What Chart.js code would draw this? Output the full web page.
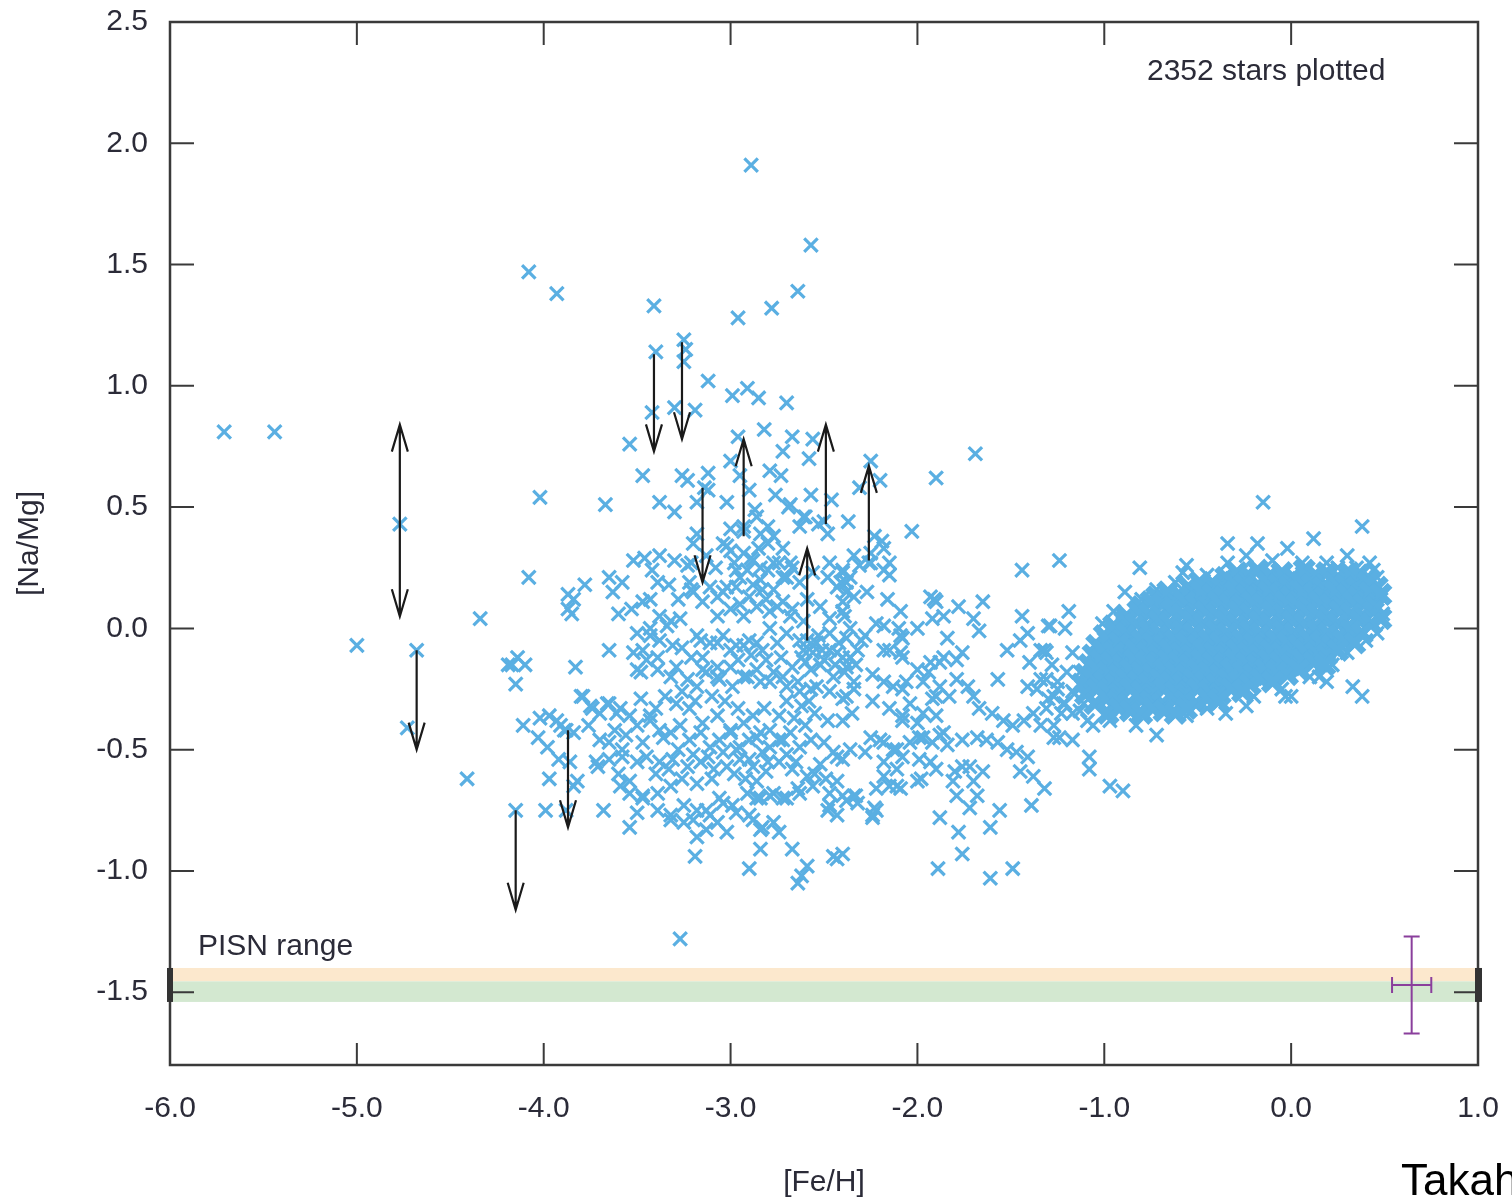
<!DOCTYPE html>
<html>
<head>
<meta charset="utf-8">
<title>[Na/Mg] vs [Fe/H]</title>
<script src="https://cdn.jsdelivr.net/npm/chart.js@4.4.0/dist/chart.umd.min.js"></script>
<style>
  body { margin: 0; background: #fff; }
  canvas { display: block; }
</style>
</head>
<body>
<canvas id="myChart" width="1512" height="1203"></canvas>
<script>
// tick labels
const feHTicks = [-6, -5, -4, -3, -2, -1, 0, 1];
const naMgTicks = [-1.5, -1.0, -0.5, 0.0, 0.5, 1.0, 1.5, 2.0, 2.5];

// stars, [Fe/H] , [Na/Mg]
const haloStars = [
  [-5.71,0.81],[-5.44,0.81],[-5.00,-0.07],[-4.77,0.43],[-4.68,-0.09],[-4.73,-0.41],[-4.41,-0.62],[-4.34,0.04],
  [-4.08,0.21],[-4.02,0.54],[-4.08,1.47],[-3.93,1.38],[-4.15,-0.75],[-4.19,-0.15],[-4.14,-0.12],[-4.10,-0.15],
  [-4.17,-0.15],[-4.15,-0.23],[-4.11,-0.40],[-4.02,-0.37],[-3.93,-0.38],[-4.03,-0.45],[-3.98,-0.49],[-3.92,-0.54],
  [-3.88,-0.42],[-3.97,-0.62],[-3.99,-0.75],[-3.88,-0.75],[-3.87,0.08],[-3.87,0.14],[-3.27,-1.28],
  [-2.89,1.91],[-2.57,1.58],[-2.64,1.39],[-2.78,1.32],[-2.96,1.28],[-3.41,1.33],[-3.40,1.14],[-3.25,1.19],
  [-3.24,1.15],[-3.25,1.10],[-3.12,1.02],[-2.99,0.96],[-2.91,0.99],[-2.85,0.95],[-2.70,0.93],[-3.42,0.89],
  [-3.30,0.91],[-3.19,0.90],[-3.54,0.76],[-3.47,0.63],[-3.67,0.51],[-3.38,0.52],[-3.30,0.48],[-3.26,0.63],
  [-3.23,0.61],[-3.12,0.64],[-3.12,0.57],[-3.18,0.52],[-3.02,0.52],[-3.00,0.69],[-2.96,0.79],[-2.82,0.82],
  [-2.95,0.63],[-2.90,0.57],[-2.87,0.49],[-2.79,0.65],[-2.73,0.63],[-2.72,0.73],[-2.67,0.79],[-2.56,0.78],
  [-2.58,0.70],[-2.76,0.55],[-2.69,0.50],[-2.57,0.55],[-2.46,0.53],[-2.37,0.44],[-2.61,0.46],[-2.25,0.69],
  [-2.31,0.58],[-3.14,0.58]
];

const metalPoorStars = [
  [-2.68,0.51],[-2.60,0.46],[-2.63,0.42],[-2.53,0.43],[-2.48,0.39],[-2.50,0.44],[-3.18,0.39],[-3.20,0.35],
  [-3.21,0.27],[-3.04,0.35],[-3.00,0.32],[-2.93,0.40],[-2.84,0.39],[-2.80,0.35],[-2.89,0.29],[-2.84,0.25],
  [-2.77,0.27],[-3.46,0.29],[-3.38,0.30],[-3.30,0.28],[-3.23,0.26],[-3.42,0.24],[-3.39,0.19],[-3.43,0.12],
  [-3.65,0.21],[-3.58,0.19],[-3.63,0.15],[-3.78,0.18],[-3.84,0.12],[-3.85,0.06],[-3.60,0.06],[-3.53,0.08],
  [-3.47,0.11],[-3.21,0.16],[-3.15,0.11],[-3.07,0.13],[-3.02,0.17],[-2.95,0.21],[-2.91,0.24],[-2.84,0.20],
  [-2.77,0.16],[-2.70,0.21],[-2.67,0.25],[-2.56,0.23],[-2.48,0.21],[-2.43,0.17],[-2.38,0.19],[-2.34,0.13],
  [-3.50,-0.02],[-3.43,0.00],[-3.34,0.01],[-3.27,0.04],[-3.38,-0.05],[-3.31,-0.07],[-3.47,-0.09],[-3.16,-0.05],
  [-3.07,-0.06],[-3.00,-0.09],[-2.93,-0.07],[-2.86,-0.06],[-3.15,-0.12],[-3.07,-0.16],[-2.79,0.00],[-2.70,-0.02],
  [-2.63,-0.05],[-2.56,-0.07],[-2.51,-0.09],[-2.43,-0.10],[-2.36,-0.12],[-2.32,-0.09],[-2.75,0.09],[-2.67,0.08],
  [-2.59,0.12],[-2.52,0.09],[-2.47,0.04],[-2.40,0.07],[-2.36,0.00],[-3.52,-0.10],[-3.45,-0.13],[-3.48,-0.18],
  [-3.39,-0.17],[-3.32,-0.20],[-3.29,-0.16],[-3.65,-0.09],[-3.83,-0.16],[-3.23,-0.21],[-3.18,-0.24],[-3.13,-0.18],
  [-3.06,-0.21],[-2.99,-0.24],[-2.91,-0.20],[-2.84,-0.22],[-2.77,-0.18],[-2.70,-0.24],[-2.63,-0.26],[-2.54,-0.24],
  [-2.47,-0.26],[-2.40,-0.29],[-2.34,-0.25],[-3.80,-0.28],[-3.75,-0.32],[-3.70,-0.35],[-3.65,-0.31],[-3.59,-0.33],
  [-3.54,-0.36],[-3.48,-0.29],[-3.89,-0.42],[-3.84,-0.43],[-3.43,-0.38],[-3.38,-0.42],[-3.32,-0.43],[-3.27,-0.40],
  [-3.22,-0.46],[-3.16,-0.43],[-3.11,-0.49],[-3.06,-0.46],[-3.00,-0.43],[-2.95,-0.49],[-2.90,-0.46],[-2.84,-0.43],
  [-2.79,-0.49],[-2.74,-0.46],[-2.68,-0.43],[-2.63,-0.49],[-2.57,-0.46],[-2.45,-0.51],[-2.40,-0.54],[-3.45,-0.53],
  [-3.38,-0.55],[-3.31,-0.54],[-3.23,-0.57],[-3.16,-0.55],[-3.09,-0.58],[-3.02,-0.57],[-2.95,-0.54],[-2.88,-0.57],
  [-2.81,-0.59],[-2.74,-0.55],[-2.67,-0.58],[-2.59,-0.61],[-3.71,-0.57],[-3.65,-0.54],[-3.58,-0.53],[-3.50,-0.55],
  [-3.86,-0.55],[-3.84,-0.65],[-3.68,-0.75],[-3.59,-0.65],[-3.54,-0.68],[-3.50,-0.76],[-3.54,-0.82],[-3.47,-0.70],
  [-3.39,-0.68],[-3.32,-0.65],[-3.32,-0.79],[-3.25,-0.73],[-3.20,-0.79],[-3.13,-0.75],[-3.06,-0.70],[-2.99,-0.73],
  [-2.91,-0.68],[-2.84,-0.70],[-2.77,-0.68],[-2.70,-0.70],[-2.63,-0.68],[-2.56,-0.65],[-3.18,-0.86],[-3.13,-0.83],
  [-3.07,-0.80],[-3.02,-0.84],[-2.88,-0.79],[-2.84,-0.83],[-2.77,-0.80],[-2.74,-0.84],[-3.19,-0.94],[-2.90,-0.99],
  [-2.84,-0.91],[-2.67,-0.91],[-2.59,-0.98],[-2.64,-1.05],[-2.43,-0.95],[-2.45,-0.94],[-2.47,-0.68],[-2.43,-0.77],
  [-2.34,-0.69],[-2.62,-1.02],[-3.00,0.41],[-2.93,0.42],[-2.86,0.46],[-2.80,0.42],[-2.77,0.38],[-2.72,0.33],
  [-2.68,0.27],[-2.63,0.19],[-2.72,0.21],[-2.47,0.27],[-2.40,0.24],[-2.31,0.26],[-2.25,0.31],[-2.18,0.33],
  [-2.15,0.27],[-3.20,0.15],[-3.11,0.17],[-3.04,0.15],[-2.97,0.17],[-2.90,0.13],[-2.83,0.16],[-3.07,0.05],
  [-3.00,0.08],[-2.93,0.05],[-2.86,0.09],[-2.79,0.07],[-2.72,0.11],[-2.68,0.05],[-2.61,0.03],[-3.38,0.05],
  [-3.32,0.03],[-3.43,-0.03],[-3.18,-0.03],[-3.11,-0.06],[-3.04,-0.03],[-2.97,-0.07],[-2.90,-0.05],[-2.83,-0.09],
  [-2.75,-0.06],[-2.61,-0.09],[-2.54,-0.06],[-2.47,-0.09],[-2.40,-0.12],[-3.15,-0.17],[-3.07,-0.20],[-3.00,-0.16],
  [-2.93,-0.20],[-2.86,-0.17],[-2.79,-0.22],[-2.72,-0.20],[-2.64,-0.22],[-2.57,-0.25],[-3.39,-0.12],[-3.50,-0.17],
  [-3.29,-0.31],[-3.22,-0.33],[-3.15,-0.39],[-3.07,-0.36],[-3.00,-0.42],[-2.93,-0.39],[-2.86,-0.45],[-2.79,-0.42],
  [-2.72,-0.46],[-3.43,-0.36],[-3.50,-0.40],[-3.36,-0.45],[-3.47,-0.47],[-2.50,-0.47],[-2.43,-0.53],[-2.36,-0.50],
  [-2.97,-0.50],[-2.90,-0.54],[-2.83,-0.51],[-2.43,-0.63],[-2.40,-0.69],[-2.32,-0.72],[-2.48,-0.75],[-2.47,-0.73],
  [-2.64,-0.66],[-2.72,-0.70],[-2.79,-0.69],[-2.86,-0.70],[-2.90,-0.77],[-2.83,-0.82],[-2.97,-0.76],[-3.04,-0.72],
  [-3.11,-0.77],[-3.18,-0.75],[-3.25,-0.80],[-3.32,-0.77],[-3.39,-0.75],[-3.97,-0.36],[-3.91,-0.40],[-3.79,-0.28],
  [-3.74,-0.33],[-3.66,-0.31],[-3.61,-0.35],[-3.65,-0.47],[-3.58,-0.50],[-3.72,-0.55],[-3.82,-0.63],[-3.54,-0.63],
  [-3.47,-0.69],[-3.52,0.28],[-3.22,0.19],[-2.97,0.24],[-3.02,0.34],[-2.88,0.28],[-2.80,0.24],[-2.74,0.27],
  [-2.41,0.19],[-2.36,0.21],[-2.25,0.27],[-2.59,-0.05],[-2.55,-0.35],[-2.62,-0.32],[-2.48,-0.38],[-2.52,-0.15],
  [-2.45,-0.20],[-2.56,-0.10],[-2.50,-0.13],[-2.44,-0.15],[-2.38,-0.16],[-2.60,-0.14],
  [-3.28,-0.50],[-3.20,-0.52],[-3.12,-0.53],[-3.04,-0.51],[-2.98,-0.60],[-2.92,-0.62],[-2.86,-0.63],[-3.10,-0.62],
  [-3.18,-0.64],[-3.26,-0.62],[-2.80,-0.55],[-2.70,-0.52],[-2.65,-0.55],[-2.60,-0.40],[-2.66,-0.37],[-2.74,-0.36],
  [-2.82,-0.33],[-2.88,-0.36],[-2.96,-0.33],[-3.03,-0.30],[-3.10,-0.28],[-3.19,-0.30],[-3.26,-0.26],[-3.35,-0.28],
  [-3.40,-0.33],[-2.62,-0.12],[-2.57,-0.17],[-2.53,-0.03],[-2.47,-0.02],[-2.42,-0.06],[-2.38,-0.04],[-2.33,-0.15],
  [-2.30,-0.05],[-2.95,0.10],[-2.88,0.18],[-2.81,0.12],[-2.98,0.27],[-2.93,0.31],[-2.85,0.33],[-3.08,0.25],
  [-3.13,0.30],[-3.28,0.12],[-3.33,0.18],[-3.26,-0.08],[-3.21,-0.12],[-2.96,-0.13],[-2.89,-0.11],[-2.81,-0.13],
  [-2.73,-0.12],[-2.67,-0.16],[-2.70,-0.30],[-2.58,-0.30],[-3.62,-0.42],[-3.56,-0.44],[-3.70,-0.46],[-3.76,-0.40],
  [-3.60,-0.60],[-3.40,-0.60],[-3.33,-0.58],[-2.52,-0.56],[-2.55,-0.60],[-2.49,-0.62]
];

const transitionStars = [
  [-2.20,0.61],[-1.90,0.62],[-1.69,0.72],[-2.03,0.40],[-2.23,0.38],[-2.19,0.36],[-2.34,0.30],[-2.26,0.27],
  [-2.18,0.24],[-2.15,0.22],[-2.40,0.23],[-2.27,0.15],[-2.16,0.12],[-2.38,0.15],[-2.40,0.11],[-2.39,0.05],
  [-1.44,0.24],[-1.24,0.28],[-1.91,0.12],[-1.78,0.09],[-1.65,0.11],[-1.70,0.04],[-1.67,-0.01],[-1.92,0.04],
  [-1.86,0.05],[-1.84,-0.04],[-1.44,0.05],[-1.29,0.01],[-1.19,0.07],[-1.21,0.00],[-2.09,0.07],[-2.10,0.00],
  [-2.22,0.02],[-2.28,-0.03],[-2.08,-0.04],[-2.09,-0.10],[-2.18,-0.09],[-2.36,-0.12],[-2.39,-0.18],[-2.34,-0.22],
  [-2.38,-0.28],[-2.35,-0.35],[-2.40,-0.38],[-2.24,-0.19],[-2.24,-0.30],[-2.13,-0.24],[-2.06,-0.22],[-2.15,-0.33],
  [-2.04,-0.31],[-1.97,-0.35],[-2.08,-0.38],[-1.94,-0.18],[-1.88,-0.14],[-1.79,-0.13],[-1.76,-0.10],[-1.88,-0.24],
  [-1.83,-0.28],[-1.92,-0.29],[-1.79,-0.21],[-1.73,-0.24],[-1.70,-0.28],[-1.99,-0.45],[-1.92,-0.47],[-1.84,-0.48],
  [-1.88,-0.44],[-1.76,-0.46],[-1.68,-0.45],[-2.20,-0.46],[-2.13,-0.50],[-2.08,-0.53],[-2.18,-0.55],[-2.11,-0.58],
  [-2.28,-0.51],[-1.99,-0.54],[-1.93,-0.55],[-1.98,-0.62],[-2.22,-0.66],[-2.15,-0.65],[-2.09,-0.66],[-2.33,-0.69],
  [-2.38,-0.71],[-2.23,-0.74],[-2.24,-0.78],[-1.80,-0.59],[-1.76,-0.57],[-1.72,-0.57],[-1.81,-0.63],[-1.70,-0.63],
  [-1.65,-0.59],[-1.79,-0.69],[-1.68,-0.69],[-1.72,-0.74],[-1.88,-0.78],[-1.78,-0.84],[-1.56,-0.75],[-1.61,-0.82],
  [-1.76,-0.93],[-1.89,-0.99],[-1.61,-1.03],[-1.49,-0.99],[-1.39,-0.73],[-1.32,-0.66],[-1.63,-0.46],[-1.57,-0.47],
  [-1.52,-0.50],[-1.47,-0.51],[-1.41,-0.53],[-1.45,-0.59],[-1.38,-0.61],[-1.67,-0.33],[-1.60,-0.35],[-1.54,-0.38],
  [-1.49,-0.40],[-1.43,-0.38],[-1.38,-0.35],[-1.31,-0.33],[-1.34,-0.40],[-1.27,-0.45],[-1.57,-0.21],[-1.52,-0.09],
  [-1.45,-0.05],[-1.41,-0.02],[-1.40,-0.14],[-1.34,-0.09],[-1.31,-0.10],[-1.41,-0.24],[-1.36,-0.25],[-1.31,-0.21],
  [-1.25,-0.22],[-1.20,-0.18],[-1.27,-0.28],[-1.22,-0.31],[-1.17,-0.26],[-1.17,-0.35],[-1.09,-0.38],[-1.24,-0.45],
  [-1.17,-0.46],[-1.08,-0.53],[-1.08,-0.58],[-0.97,-0.65],[-0.90,-0.67],[-1.17,-0.10],[-1.13,-0.18],[-2.40,-0.93],
  [-1.93,0.13],[-1.90,0.11],[-2.18,0.01],[-2.09,-0.03],[-2.00,0.00],[-2.15,-0.09],[-2.08,-0.12],[-2.00,-0.17],
  [-1.93,-0.14],[-1.86,-0.12],[-2.18,-0.22],[-2.08,-0.25],[-1.97,-0.22],[-1.90,-0.28],[-2.08,-0.36],[-2.00,-0.39],
  [-1.90,-0.36],[-1.86,-0.43],[-2.18,-0.61],[-2.11,-0.65],[-2.00,-0.63],[-1.90,-0.58],[-2.24,-0.77],[-2.22,-0.75],
  [-2.25,-0.45],[-2.18,-0.47],[-2.11,-0.50],[-2.04,-0.47],[-1.97,-0.45]
];

const diskFringe = [
  [-0.15,0.52],[0.38,0.42],[0.12,0.37],[-0.34,0.35],[-0.18,0.35],[-0.02,0.33],[-0.81,0.25],[-0.56,0.26],
  [-0.34,0.27],[-0.24,0.30],[-0.10,0.28],[0.06,0.27],[0.19,0.27],[0.30,0.30],[0.42,0.27],[0.46,0.21],
  [0.48,0.13],[0.49,0.06],[0.46,-0.02],[-0.58,0.23],[-0.72,0.16],[-0.89,0.15],[-1.30,0.01],[-1.01,0.02],
  [-0.90,0.02],[0.33,-0.24],[0.38,-0.28],[0.15,-0.20],[0.19,-0.22],[-0.03,-0.28],[0.00,-0.28],[-0.24,-0.32],
  [-0.35,-0.35],[-0.56,-0.36],[-0.72,-0.44],[-0.83,-0.40],[-0.97,-0.38],[-1.06,-0.40],[-1.23,-0.35],[-1.27,-0.40],
  [-1.32,-0.09],[-1.28,-0.15],[-1.34,-0.21],[-1.25,-0.25],[-1.30,-0.29],[-1.21,-0.31],[-1.16,-0.27],[-1.11,-0.31],
  [-1.13,-0.34],[-0.45,0.22],[-0.62,0.19],[-0.80,0.12],[-0.95,0.07],[0.25,0.25],[0.35,0.25],[0.44,0.24],
  [0.40,-0.05],[0.30,-0.10],[0.22,-0.15],[0.10,-0.20],[-0.05,-0.25],[-0.20,-0.28],[-0.45,-0.33]
];

// the crowded thin-disk clump, stars overlap into a solid patch
const diskCore = [
  [-0.35,0.21],[-0.29,0.23],[-0.23,0.22],[-0.18,0.24],[-0.11,0.22],[-0.05,0.23],[0.01,0.21],[0.07,0.24],[0.13,0.22],[0.19,0.23],[0.25,0.21],[0.31,0.23],[0.36,0.22],[0.42,0.20],
  [-0.55,0.17],[-0.49,0.19],[-0.43,0.18],[-0.37,0.17],[-0.31,0.19],[-0.25,0.18],[-0.19,0.17],[-0.13,0.19],[-0.07,0.18],[-0.01,0.17],[0.05,0.19],[0.11,0.18],[0.17,0.17],[0.23,0.19],[0.29,0.18],[0.35,0.17],[0.41,0.19],[0.46,0.17],
  [-0.72,0.13],[-0.66,0.15],[-0.60,0.14],[-0.54,0.13],[-0.48,0.15],[-0.42,0.14],[-0.36,0.13],[-0.30,0.15],[-0.24,0.14],[-0.18,0.13],[-0.12,0.15],[-0.06,0.14],[0.00,0.13],[0.06,0.15],[0.12,0.14],[0.18,0.13],[0.24,0.15],[0.30,0.14],[0.36,0.13],[0.42,0.15],[0.48,0.14],
  [-0.80,0.09],[-0.75,0.11],[-0.69,0.10],[-0.63,0.09],[-0.57,0.11],[-0.51,0.10],[-0.45,0.09],[-0.39,0.11],[-0.33,0.10],[-0.27,0.09],[-0.21,0.11],[-0.15,0.10],[-0.09,0.09],[-0.03,0.11],[0.03,0.10],[0.09,0.09],[0.15,0.11],[0.21,0.10],[0.27,0.09],[0.33,0.11],[0.39,0.10],[0.45,0.09],
  [-0.88,0.05],[-0.82,0.07],[-0.76,0.06],[-0.70,0.05],[-0.64,0.07],[-0.58,0.06],[-0.52,0.05],[-0.46,0.07],[-0.40,0.06],[-0.34,0.05],[-0.28,0.07],[-0.22,0.06],[-0.16,0.05],[-0.10,0.07],[-0.04,0.06],[0.02,0.05],[0.08,0.07],[0.14,0.06],[0.20,0.05],[0.26,0.07],[0.32,0.06],[0.38,0.05],[0.44,0.07],[0.48,0.04],
  [-0.95,0.01],[-0.89,0.03],[-0.83,0.02],[-0.77,0.01],[-0.71,0.03],[-0.65,0.02],[-0.59,0.01],[-0.53,0.03],[-0.47,0.02],[-0.41,0.01],[-0.35,0.03],[-0.29,0.02],[-0.23,0.01],[-0.17,0.03],[-0.11,0.02],[-0.05,0.01],[0.01,0.03],[0.07,0.02],[0.13,0.01],[0.19,0.03],[0.25,0.02],[0.31,0.01],[0.37,0.03],[0.43,0.02],
  [-1.00,-0.03],[-0.94,-0.01],[-0.88,-0.02],[-0.82,-0.03],[-0.76,-0.01],[-0.70,-0.02],[-0.64,-0.03],[-0.58,-0.01],[-0.52,-0.02],[-0.46,-0.03],[-0.40,-0.01],[-0.34,-0.02],[-0.28,-0.03],[-0.22,-0.01],[-0.16,-0.02],[-0.10,-0.03],[-0.04,-0.01],[0.02,-0.02],[0.08,-0.03],[0.14,-0.01],[0.20,-0.02],[0.26,-0.03],[0.32,-0.01],[0.38,-0.02],
  [-1.04,-0.07],[-0.98,-0.05],[-0.92,-0.06],[-0.86,-0.07],[-0.80,-0.05],[-0.74,-0.06],[-0.68,-0.07],[-0.62,-0.05],[-0.56,-0.06],[-0.50,-0.07],[-0.44,-0.05],[-0.38,-0.06],[-0.32,-0.07],[-0.26,-0.05],[-0.20,-0.06],[-0.14,-0.07],[-0.08,-0.05],[-0.02,-0.06],[0.04,-0.07],[0.10,-0.05],[0.16,-0.06],[0.22,-0.07],[0.28,-0.05],[0.34,-0.06],
  [-1.06,-0.11],[-1.01,-0.09],[-0.95,-0.10],[-0.89,-0.11],[-0.83,-0.09],[-0.77,-0.10],[-0.71,-0.11],[-0.65,-0.09],[-0.59,-0.10],[-0.53,-0.11],[-0.47,-0.09],[-0.41,-0.10],[-0.35,-0.11],[-0.29,-0.09],[-0.23,-0.10],[-0.17,-0.11],[-0.11,-0.09],[-0.05,-0.10],[0.01,-0.11],[0.07,-0.09],[0.13,-0.10],[0.19,-0.11],[0.25,-0.09],
  [-1.08,-0.15],[-1.02,-0.13],[-0.96,-0.14],[-0.90,-0.15],[-0.84,-0.13],[-0.78,-0.14],[-0.72,-0.15],[-0.66,-0.13],[-0.60,-0.14],[-0.54,-0.15],[-0.48,-0.13],[-0.42,-0.14],[-0.36,-0.15],[-0.30,-0.13],[-0.24,-0.14],[-0.18,-0.15],[-0.12,-0.13],[-0.06,-0.14],[0.00,-0.15],[0.06,-0.13],[0.12,-0.14],[0.18,-0.15],
  [-1.10,-0.19],[-1.04,-0.17],[-0.98,-0.18],[-0.92,-0.19],[-0.86,-0.17],[-0.80,-0.18],[-0.74,-0.19],[-0.68,-0.17],[-0.62,-0.18],[-0.56,-0.19],[-0.50,-0.17],[-0.44,-0.18],[-0.38,-0.19],[-0.32,-0.17],[-0.26,-0.18],[-0.20,-0.19],[-0.14,-0.17],[-0.08,-0.18],[-0.02,-0.19],[0.04,-0.17],
  [-1.12,-0.23],[-1.06,-0.21],[-1.00,-0.22],[-0.94,-0.23],[-0.88,-0.21],[-0.82,-0.22],[-0.76,-0.23],[-0.70,-0.21],[-0.64,-0.22],[-0.58,-0.23],[-0.52,-0.21],[-0.46,-0.22],[-0.40,-0.23],[-0.34,-0.21],[-0.28,-0.22],[-0.22,-0.23],[-0.16,-0.21],[-0.10,-0.22],
  [-1.10,-0.27],[-1.04,-0.25],[-0.98,-0.26],[-0.92,-0.27],[-0.86,-0.25],[-0.80,-0.26],[-0.74,-0.27],[-0.68,-0.25],[-0.62,-0.26],[-0.56,-0.27],[-0.50,-0.25],[-0.44,-0.26],[-0.38,-0.27],[-0.32,-0.25],[-0.26,-0.26],
  [-1.05,-0.31],[-0.99,-0.29],[-0.93,-0.30],[-0.87,-0.31],[-0.81,-0.29],[-0.75,-0.30],[-0.69,-0.31],[-0.63,-0.29],[-0.57,-0.30],[-0.51,-0.31],[-0.45,-0.29],[-0.39,-0.30],
  [-0.98,-0.35],[-0.92,-0.33],[-0.86,-0.34],[-0.80,-0.35],[-0.74,-0.33],[-0.68,-0.34],[-0.62,-0.35],[-0.56,-0.33]
];

// upper / lower limits: star, arrow from -> to
const limitFeH  = [-4.77, -4.77, -4.68, -4.15, -3.87, -3.41, -3.26, -3.15, -2.93, -2.59, -2.49, -2.26];
const limitFrom = [ 0.43,  0.43, -0.09, -0.75, -0.42,  1.13,  1.18,  0.58,  0.38, -0.05,  0.43,  0.28];
const limitTo   = [ 0.84,  0.05, -0.50, -1.16, -0.82,  0.73,  0.78,  0.19,  0.78,  0.33,  0.84,  0.67];

// PISN predicted range (two shaded bands)
const pisnOrange = [-1.40, -1.455];
const pisnGreen = [-1.455, -1.54];

// typical error bar
const errFeH = 0.645, errNaMg = -1.47, errDx = 0.105, errDy = 0.20;

const starColor = '#5aafe2';
const inkColor = '#2b2b38';
const fontFamily = '"Liberation Sans", Arial, Helvetica, sans-serif';

const toPoint = (p) => ({ x: p[0], y: p[1] });

const decorations = {
  id: 'decorations',
  beforeDatasetsDraw(chart) {
    const { ctx, chartArea: a, scales: { y } } = chart;
    ctx.save();
    let t = y.getPixelForValue(pisnOrange[0]), b = y.getPixelForValue(pisnOrange[1]);
    ctx.fillStyle = '#fce8cd';
    ctx.fillRect(a.left, t, a.width, b - t);
    t = y.getPixelForValue(pisnGreen[0]); b = y.getPixelForValue(pisnGreen[1]);
    ctx.fillStyle = '#d3e8d0';
    ctx.fillRect(a.left, t, a.width, b - t);
    ctx.restore();
  },
  afterDatasetsDraw(chart) {
    const { ctx, chartArea: a, scales: { x, y } } = chart;
    ctx.save();

    // limit arrows
    ctx.strokeStyle = '#1a1a1a';
    ctx.lineWidth = 2.2;
    limitFeH.forEach((fe, i) => {
      const px = x.getPixelForValue(fe);
      const y0 = y.getPixelForValue(limitFrom[i]);
      const y1 = y.getPixelForValue(limitTo[i]);
      const dir = y1 < y0 ? 1 : -1;
      ctx.beginPath();
      ctx.moveTo(px, y0);
      ctx.lineTo(px, y1);
      ctx.moveTo(px - 8, y1 + dir * 27);
      ctx.lineTo(px, y1);
      ctx.lineTo(px + 8, y1 + dir * 27);
      ctx.stroke();
    });

    // error bar
    const cx = x.getPixelForValue(errFeH), cy = y.getPixelForValue(errNaMg);
    const xl = x.getPixelForValue(errFeH - errDx), xr = x.getPixelForValue(errFeH + errDx);
    const yt = y.getPixelForValue(errNaMg + errDy), yb = y.getPixelForValue(errNaMg - errDy);
    ctx.strokeStyle = '#8a3f9c';
    ctx.lineWidth = 2;
    ctx.beginPath();
    ctx.moveTo(cx, yt); ctx.lineTo(cx, yb);
    ctx.moveTo(cx - 8, yt); ctx.lineTo(cx + 8, yt);
    ctx.moveTo(cx - 8, yb); ctx.lineTo(cx + 8, yb);
    ctx.moveTo(xl, cy); ctx.lineTo(xr, cy);
    ctx.moveTo(xl, cy - 8); ctx.lineTo(xl, cy + 8);
    ctx.moveTo(xr, cy - 8); ctx.lineTo(xr, cy + 8);
    ctx.stroke();

    // frame and inward ticks
    ctx.strokeStyle = '#3a3a3a';
    ctx.lineWidth = 2.5;
    ctx.strokeRect(a.left, a.top, a.width, a.height);
    ctx.lineWidth = 2;
    ctx.beginPath();
    x.ticks.forEach((t) => {
      const px = x.getPixelForValue(t.value);
      ctx.moveTo(px, a.bottom); ctx.lineTo(px, a.bottom - 22);
      ctx.moveTo(px, a.top); ctx.lineTo(px, a.top + 23);
    });
    y.ticks.forEach((t) => {
      const py = y.getPixelForValue(t.value);
      ctx.moveTo(a.left, py); ctx.lineTo(a.left + 24, py);
      ctx.moveTo(a.right, py); ctx.lineTo(a.right - 24, py);
    });
    ctx.stroke();
    const bt = y.getPixelForValue(pisnOrange[0]), bb = y.getPixelForValue(pisnGreen[1]);
    ctx.fillStyle = '#333';
    ctx.fillRect(a.left - 3, bt, 6, bb - bt);
    ctx.fillRect(a.right - 3, bt, 7, bb - bt);

    // labels inside the plot
    ctx.fillStyle = inkColor;
    ctx.font = '30px ' + fontFamily;
    ctx.textBaseline = 'alphabetic';
    ctx.textAlign = 'left';
    ctx.fillText('2352 stars plotted', 1147, 80);
    ctx.fillText('PISN range', 198, 955);

    ctx.fillStyle = '#000';
    ctx.font = '44px ' + fontFamily;
    ctx.fillText('Takahashi', 1401, 1195);
    ctx.restore();
  }
};

const data = {
  datasets: [
    {
      data: diskCore.map(toPoint),
      pointStyle: 'crossRot',
      pointRadius: 13,
      pointBorderWidth: 7,
      pointBorderColor: starColor,
      pointBackgroundColor: starColor,
      showLine: false
    },
    {
      data: [...haloStars, ...metalPoorStars, ...transitionStars, ...diskFringe].map(toPoint),
      pointStyle: 'crossRot',
      pointRadius: 9.5,
      pointBorderWidth: 3.2,
      pointBorderColor: starColor,
      pointBackgroundColor: starColor,
      showLine: false
    }
  ]
};

const config = {
  type: 'scatter',
  data: data,
  options: {
    responsive: false,
    devicePixelRatio: 1,
    animation: false,
    events: [],
    layout: { padding: { top: 22, right: 34, left: 0, bottom: 0 } },
    plugins: {
      legend: { display: false },
      tooltip: { enabled: false }
    },
    scales: {
      x: {
        type: 'linear',
        min: -6,
        max: 1,
        afterBuildTicks: (scale) => { scale.ticks = feHTicks.map((v) => ({ value: v })); },
        afterFit: (scale) => {
          scale.height = 138;
          scale.paddingLeft = 0;
          scale.paddingRight = 0;
        },
        grid: { display: false, drawTicks: false },
        border: { display: false },
        ticks: {
          padding: 26,
          color: inkColor,
          font: { family: fontFamily, size: 30 },
          maxRotation: 0,
          callback: (v) => Number(v).toFixed(1)
        },
        title: {
          display: true,
          text: '[Fe/H]',
          color: inkColor,
          font: { family: fontFamily, size: 30 },
          padding: { top: 0, bottom: 2 }
        }
      },
      y: {
        type: 'linear',
        min: -1.8,
        max: 2.5,
        afterBuildTicks: (scale) => { scale.ticks = naMgTicks.map((v) => ({ value: v })); },
        afterFit: (scale) => {
          scale.width = 170;
          scale.paddingTop = 0;
          scale.paddingBottom = 0;
        },
        grid: { display: false, drawTicks: false },
        border: { display: false },
        ticks: {
          padding: 22,
          color: inkColor,
          font: { family: fontFamily, size: 30 },
          callback: (v) => Number(v).toFixed(1)
        },
        title: {
          display: true,
          text: '[Na/Mg]',
          color: inkColor,
          font: { family: fontFamily, size: 30 },
          padding: { top: 12, bottom: 0 }
        }
      }
    }
  },
  plugins: [decorations]
};

const myChart = new Chart(document.getElementById('myChart'), config);
</script>
</body>
</html>
